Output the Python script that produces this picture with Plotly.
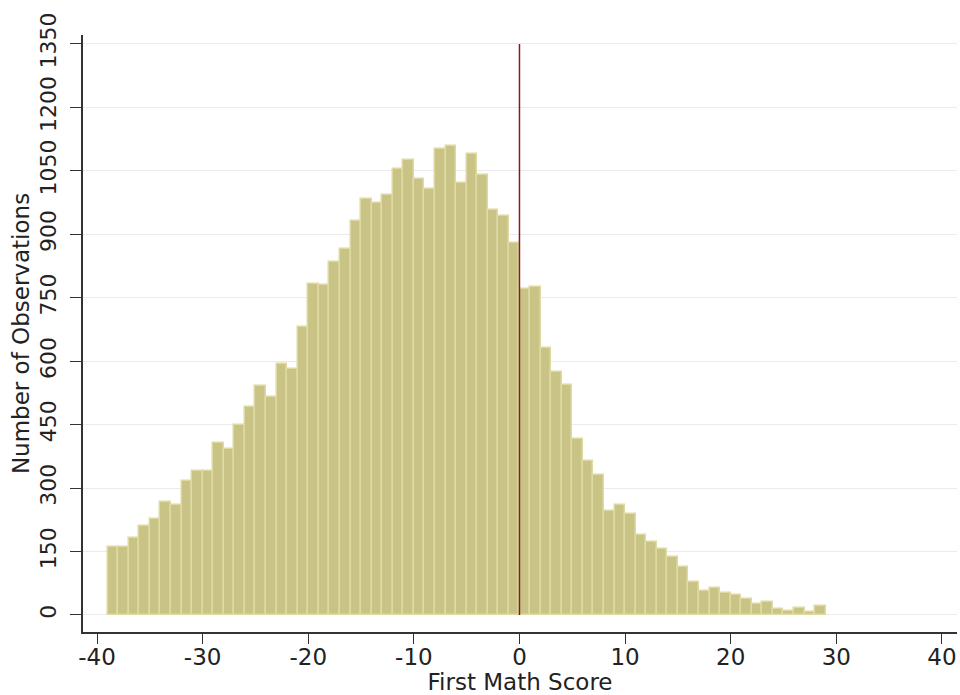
import plotly.graph_objects as go

# Histogram bins (left edge of each 1-point bin) and counts
bin_left = [-39, -38, -37, -36, -35, -34, -33, -32, -31, -30,
            -29, -28, -27, -26, -25, -24, -23, -22, -21, -20,
            -19, -18, -17, -16, -15, -14, -13, -12, -11, -10,
            -9, -8, -7, -6, -5, -4, -3, -2, -1, 0,
            1, 2, 3, 4, 5, 6, 7, 8, 9, 10,
            11, 12, 13, 14, 15, 16, 17, 18, 19, 20,
            21, 22, 23, 24, 25, 26, 27, 28]
counts = [160, 160, 182, 210, 226, 267, 261, 316, 340, 341,
          407, 393, 450, 491, 541, 516, 593, 581, 680, 782,
          780, 835, 864, 932, 983, 975, 993, 1054, 1076, 1030,
          1007, 1101, 1109, 1020, 1090, 1040, 957, 944, 879, 770,
          775, 630, 574, 544, 417, 364, 330, 246, 259, 239,
          188, 172, 155, 138, 114, 79, 57, 65, 53, 47,
          38, 25, 31, 13, 10, 17, 8, 21]

x_ticks = [-40, -30, -20, -10, 0, 10, 20, 30, 40]
x_tick_labels = ["-40", "-30", "-20", "-10", "0", "10", "20", "30", "40"]
y_ticks = [0, 150, 300, 450, 600, 750, 900, 1050, 1200, 1350]
y_tick_labels = ["0", "150", "300", "450", "600", "750", "900", "1050", "1200", "1350"]
cutoff = 0
line_top = 1350

FONT = "DejaVu Sans"
TXT = "#222222"

fig = go.Figure()
fig.add_trace(go.Bar(
    x=bin_left, y=counts, width=1, offset=0,
    marker=dict(color="#c9c486", line=dict(color="#dedaa2", width=1.5)),
    hoverinfo="x+y",
))
fig.add_trace(go.Scatter(
    x=[cutoff, cutoff], y=[0, line_top], mode="lines",
    line=dict(color="#851c1c", width=1.5), hoverinfo="skip",
))

fig.update_layout(
    width=960, height=695,
    margin=dict(l=83, r=3, t=35, b=63),
    paper_bgcolor="white", plot_bgcolor="white",
    showlegend=False, bargap=0,
    font=dict(family=FONT, color=TXT),
    xaxis=dict(
        range=[-41.33, 41.43], tickvals=x_ticks, ticktext=x_tick_labels,
        ticks="outside", ticklen=10, tickwidth=1.2, tickcolor="#333",
        showline=True, linecolor="#333", linewidth=1.5,
        showgrid=False, zeroline=False,
        tickfont=dict(size=23, family=FONT, color=TXT),
        ticklabelstandoff=-6,
        title=dict(text="First Math Score", font=dict(size=23, family=FONT, color=TXT), standoff=10),
        automargin=False,
    ),
    yaxis=dict(
        range=[-40.2, 1371], tickvals=y_ticks, ticktext=y_tick_labels, tickangle=-90,
        ticks="outside", ticklen=11, tickwidth=1.2, tickcolor="#333",
        showline=True, linecolor="#333", linewidth=1.5,
        showgrid=True, gridcolor="#ebebeb", gridwidth=1, zeroline=False,
        tickfont=dict(size=22, family=FONT, color=TXT),
        ticklabelstandoff=5,
        title=dict(text="Number of Observations", font=dict(size=23, family=FONT, color=TXT), standoff=0),
        automargin=False,
    ),
)

fig.write_html("out.html", config={"displayModeBar": False},
               post_script="document.body.style.margin='0px';document.body.style.overflow='hidden';")
